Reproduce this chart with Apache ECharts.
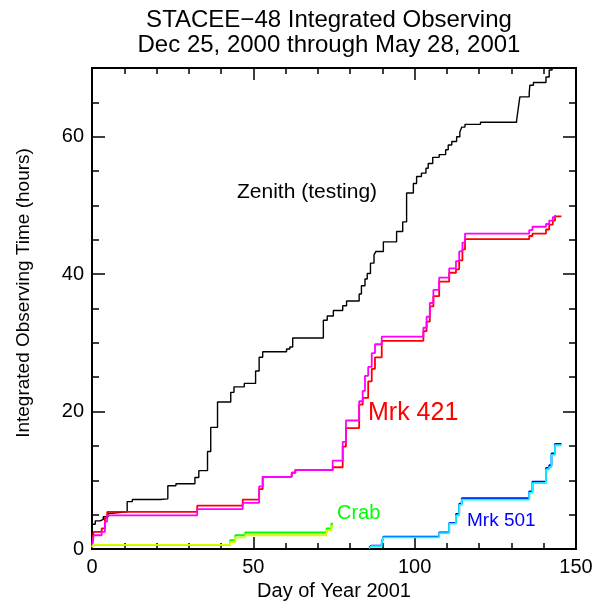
<!DOCTYPE html>
<html>
<head>
<meta charset="utf-8">
<script src="https://cdn.jsdelivr.net/npm/echarts@6/dist/echarts.min.js"></script>
<style>
html, body { margin: 0; padding: 0; background: #fff; }
#chart { width: 594px; height: 602px; }
</style>
</head>
<body>
<div id="chart"></div>
<script>
// cumulative observing hours, step values (day of jump, new total)
var zenithDays = [0, 1, 2.5, 3.5, 5, 6, 10.9, 12.5, 21.1, 23.5, 26, 31.9, 33.1, 35.8, 36.8, 38.9, 43, 44, 47.2, 50.7, 51.8, 52.9, 60.3, 61.3, 62.2, 71.7, 72.9, 74.8, 77.7, 78.9, 82.8, 83.5, 84.6, 85.3, 86.3, 87.4, 88, 90.3, 94.4, 96.3, 97.5, 99.6, 100.6, 102.1, 103.5, 104.2, 105.6, 107.6, 109.6, 110.4, 111.5, 113, 114, 114.6, 115.6, 120.4, 131.6, 132.1, 132.6, 135.5, 135.7, 136.8, 140.7, 141.7, 142.6];
var zenithHours = [3.6, 4.1, 4.3, 4.7, 5.2, 5.4, 6.9, 7.2, 7.3, 9.2, 9.5, 10.4, 11.4, 14.2, 17.7, 21.4, 22.8, 23.6, 24.1, 25.9, 27.9, 28.7, 29.1, 29.4, 30.7, 33.3, 33.9, 34.7, 35.4, 36.1, 37.1, 38.3, 39.3, 40.1, 41.6, 42.8, 43.3, 44.7, 46.2, 47.6, 51.8, 53.2, 54.2, 54.7, 55.4, 56.1, 57.0, 57.4, 58.1, 58.8, 59.3, 60.0, 60.7, 61.4, 61.8, 62.1, 62.4, 64.1, 65.8, 66.3, 67.5, 67.9, 68.7, 69.7, 71];

var mrk421RedDays = [0, 0.5, 3, 4, 4.7, 32.6, 46.7, 51.8, 52.9, 61.9, 63, 74.6, 77.7, 78.7, 82.8, 83.9, 85.6, 86.7, 87.7, 89.8, 102.7, 103.7, 104.7, 105.8, 107.6, 110.7, 112.8, 113.8, 114.8, 115.6, 135.5, 136.5, 140.7, 141.7, 142.8, 143.5, 145.5];
var mrk421RedHours = [0.3, 2.5, 3.0, 4.5, 5.4, 6.3, 7.2, 8.7, 10.5, 11.1, 11.5, 11.9, 14.9, 17.6, 21.0, 22.0, 24.4, 26.2, 27.9, 30.3, 31.7, 33.1, 35.3, 36.8, 38.9, 40.2, 40.7, 42.0, 43.6, 45.1, 45.55, 45.9, 46.5, 47.2, 47.8, 48.4, 48.4];

var mrk421MagDays = [0, 0.5, 3, 4, 4.7, 32.6, 46.7, 51.8, 52.9, 61.9, 63, 74.6, 77.7, 78.7, 82.8, 83.9, 84.6, 85.6, 86.7, 87.7, 89.8, 102.7, 103.7, 104.7, 105.8, 107.6, 110.7, 112.8, 113.8, 114.8, 115.6, 135.5, 136.5, 140.7, 141.7, 142.8, 143.5];
var mrk421MagHours = [0.2, 2.0, 2.5, 4.0, 4.9, 5.8, 6.7, 9.1, 10.5, 11.1, 11.5, 12.85, 15.6, 18.7, 21.5, 23.0, 25.2, 26.5, 28.5, 29.8, 30.9, 32.2, 33.8, 35.8, 37.7, 39.5, 40.85, 41.9, 43.3, 44.6, 45.9, 46.4, 46.9, 47.3, 47.8, 48.3, 48.6];

var crabGreenDays = [0, 0.5, 42.8, 44.4, 47.5, 72.7, 74.2, 74.7];
var crabGreenHours = [0.3, 0.6, 1.3, 2.0, 2.4, 3.0, 3.7, 3.7];
var crabYellowDays = [0, 0.5, 42.8, 44.4, 47.5, 72.7, 74.2, 74.7];
var crabYellowHours = [0.3, 0.6, 1.0, 1.7, 2.0, 2.7, 3.3, 3.3];

var mrk501BlueDays = [85.9, 86.5, 89.8, 90.3, 107.6, 110.7, 112.8, 113.8, 114.6, 135.5, 136.5, 140.7, 141.7, 142.4, 143.5, 145.5];
var mrk501BlueHours = [0.2, 0.5, 1.0, 1.8, 2.4, 3.8, 5.1, 6.6, 7.4, 8.4, 9.8, 11.8, 12.2, 13.9, 15.3, 15.3];
var mrk501CyanDays = [85.9, 86.5, 89.8, 90.3, 107.6, 110.7, 112.8, 113.8, 114.6, 135.5, 136.5, 140.7, 141.7, 142.4, 143.5, 145.5];
var mrk501CyanHours = [0.1, 0.4, 0.9, 1.7, 2.3, 3.7, 4.9, 6.4, 7.2, 8.2, 9.6, 11.6, 11.9, 13.7, 15.1, 15.1];

var xTicks = { min: 0, max: 150, major: 50, minorSplit: 5 };
var yTicks = { min: 0, max: 70, major: 20, minor: 5 };

function pairs(days, hours) {
  return days.map(function (d, i) { return [d, hours[i]]; });
}

var font = 'Liberation Sans';
var chart = echarts.init(document.getElementById('chart'));

function stepSeries(name, days, hours, color, width) {
  return {
    name: name,
    type: 'line',
    step: 'end',
    symbol: 'none',
    clip: true,
    data: pairs(days, hours),
    lineStyle: { color: color, width: width },
    itemStyle: { color: color }
  };
}

function xAxisDef(pos, labels) {
  return {
    type: 'value',
    position: pos,
    min: xTicks.min,
    max: xTicks.max,
    interval: xTicks.major,
    axisLine: { show: true, onZero: false, lineStyle: { color: '#000', width: 2 } },
    axisTick: { show: true, inside: true, length: 12, lineStyle: { color: '#000', width: 1.5 } },
    minorTick: { show: true, splitNumber: xTicks.minorSplit, length: 6, lineStyle: { color: '#000', width: 1.5 } },
    splitLine: { show: false },
    axisLabel: { show: labels, color: '#000', fontSize: 20, fontFamily: font, margin: 8 },
    name: labels ? 'Day of Year 2001' : '',
    nameLocation: 'middle',
    nameGap: 30,
    nameTextStyle: { color: '#000', fontSize: 20, fontFamily: font }
  };
}

function yAxisDef(pos, interval, tickLen, labels) {
  return {
    type: 'value',
    position: pos,
    min: yTicks.min,
    max: yTicks.max,
    interval: interval,
    axisLine: { show: true, onZero: false, lineStyle: { color: '#000', width: 2 } },
    axisTick: { show: true, inside: true, length: tickLen, lineStyle: { color: '#000', width: 1.5 } },
    splitLine: { show: false },
    axisLabel: {
      show: labels, color: '#000', fontSize: 20, fontFamily: font, margin: 8,
      formatter: function (v) { return v % yTicks.major === 0 ? String(v) : ''; }
    }
  };
}

chart.setOption({
  animation: false,
  backgroundColor: '#fff',
  title: {
    text: 'STACEE\u221248 Integrated Observing\nDec 25, 2000 through May 28, 2001',
    left: 324,
    top: 3,
    textAlign: 'center',
    textStyle: { color: '#000', fontSize: 24, fontWeight: 'normal', fontFamily: font, lineHeight: 25 }
  },
  grid: { left: 92, right: 18, top: 68, bottom: 53, outerBoundsMode: 'none', containLabel: false },
  xAxis: [xAxisDef('bottom', true), xAxisDef('top', false)],
  yAxis: [
    yAxisDef('left', yTicks.major, 13, true),
    yAxisDef('left', yTicks.minor, 7, false),
    yAxisDef('right', yTicks.major, 13, false),
    yAxisDef('right', yTicks.minor, 7, false)
  ],
  graphic: [
    { type: 'text', x: 24, y: 293, rotation: Math.PI / 2,
      style: { text: 'Integrated Observing Time (hours)', fill: '#000', fontSize: 19, fontFamily: font,
               align: 'center', verticalAlign: 'middle', textAlign: 'center', textVerticalAlign: 'middle' } },
    { type: 'text', x: 237, y: 192,
      style: { text: 'Zenith (testing)', fill: '#000', fontSize: 21, fontFamily: font,
               align: 'left', verticalAlign: 'middle', textAlign: 'left', textVerticalAlign: 'middle' } },
    { type: 'text', x: 368, y: 413,
      style: { text: 'Mrk 421', fill: '#ff0000', fontSize: 25, fontFamily: font,
               align: 'left', verticalAlign: 'middle', textAlign: 'left', textVerticalAlign: 'middle' } },
    { type: 'text', x: 337, y: 513,
      style: { text: 'Crab', fill: '#00ff00', fontSize: 20, fontFamily: font,
               align: 'left', verticalAlign: 'middle', textAlign: 'left', textVerticalAlign: 'middle' } },
    { type: 'text', x: 467, y: 521,
      style: { text: 'Mrk 501', fill: '#0000ff', fontSize: 19, fontFamily: font,
               align: 'left', verticalAlign: 'middle', textAlign: 'left', textVerticalAlign: 'middle' } }
  ],
  series: [
    stepSeries('Zenith', zenithDays, zenithHours, '#000000', 1.4),
    stepSeries('Mrk 421 (red)', mrk421RedDays, mrk421RedHours, '#ff0000', 1.8),
    stepSeries('Mrk 421 (magenta)', mrk421MagDays, mrk421MagHours, '#ff00ff', 1.8),
    stepSeries('Crab (green)', crabGreenDays, crabGreenHours, '#00ff00', 1.8),
    stepSeries('Crab (yellow)', crabYellowDays, crabYellowHours, '#d8ff00', 1.8),
    stepSeries('Mrk 501 (blue)', mrk501BlueDays, mrk501BlueHours, '#0000ff', 1.8),
    stepSeries('Mrk 501 (cyan)', mrk501CyanDays, mrk501CyanHours, '#00ffff', 1.8)
  ]
});
</script>
</body>
</html>
